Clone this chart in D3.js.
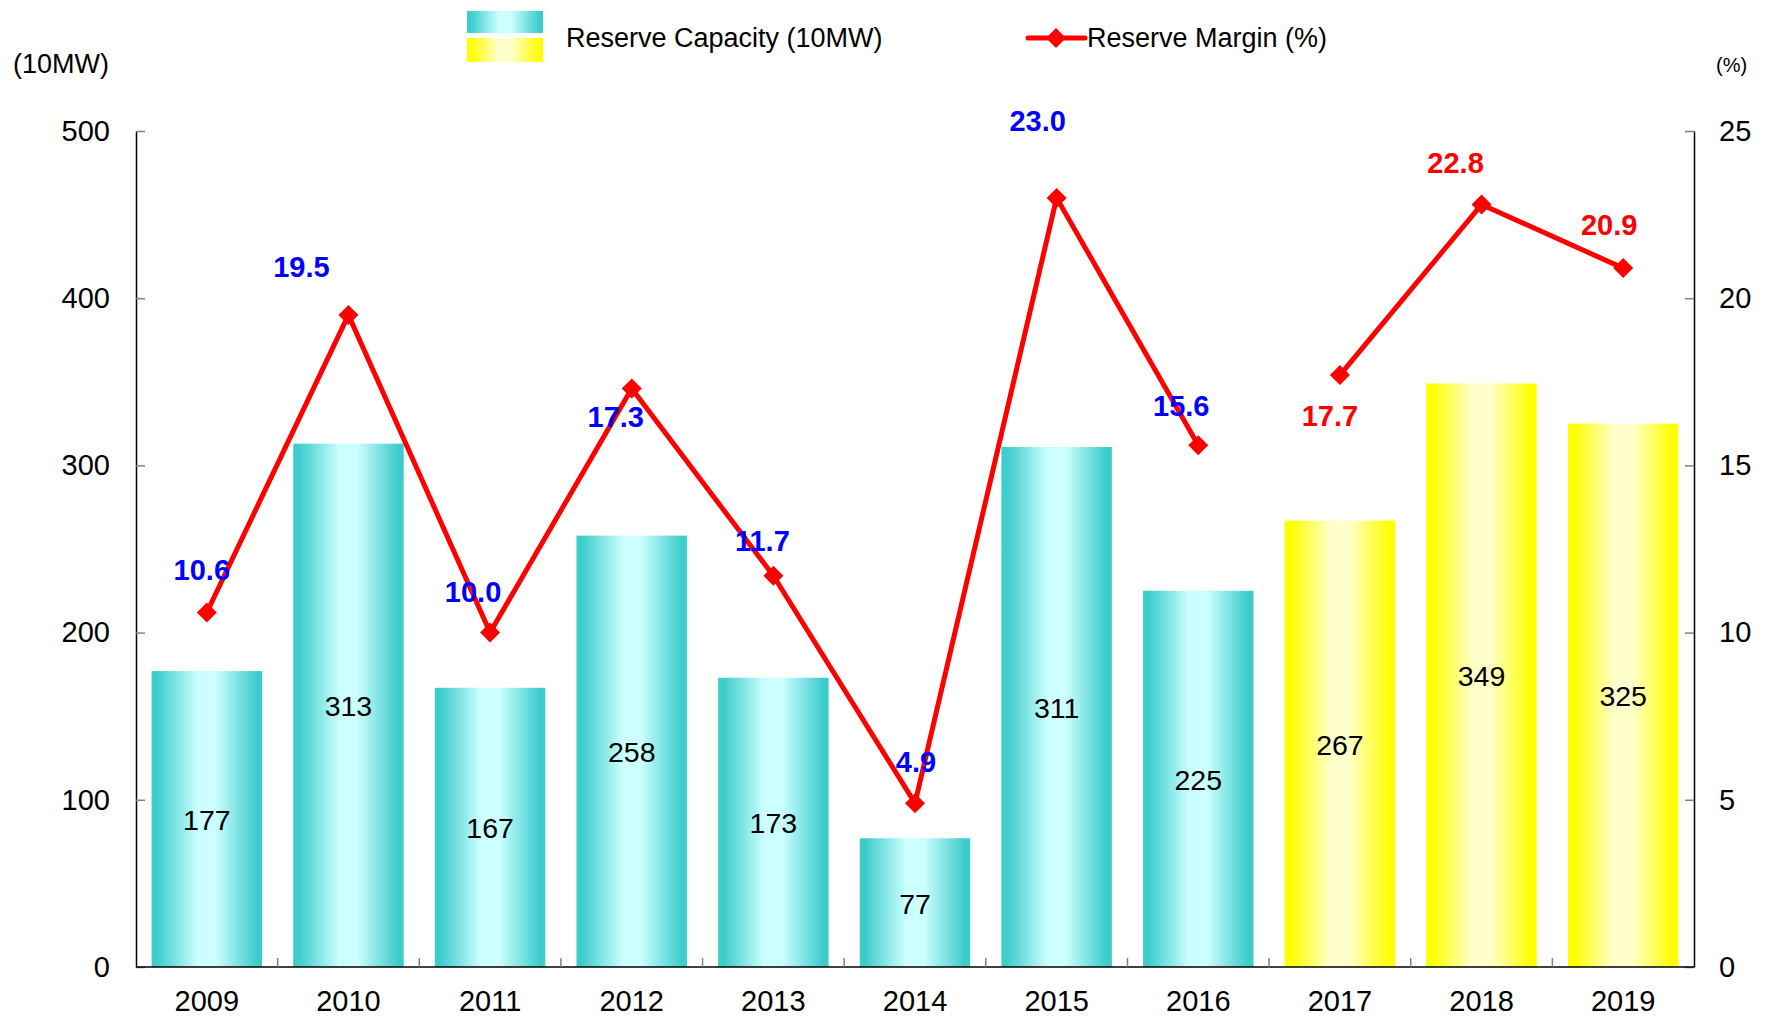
<!DOCTYPE html>
<html>
<head>
<meta charset="utf-8">
<script src="https://cdn.jsdelivr.net/npm/d3@7"></script>
<style>
  html, body { margin: 0; padding: 0; background: #fff; }
  svg { display: block; font-family: "Liberation Sans", Arial, sans-serif; }
</style>
</head>
<body>
<svg id="chart" width="1765" height="1019"></svg>
<script>
// ---- data ----
const years = ["2009","2010","2011","2012","2013","2014","2015","2016","2017","2018","2019"];
const reserveCapacity = [177, 313, 167, 258, 173, 77, 311, 225, 267, 349, 325];
const reserveMargin = [10.6, 19.5, 10.0, 17.3, 11.7, 4.9, 23.0, 15.6, 17.7, 22.8, 20.9];
const forecast = [false, false, false, false, false, false, false, false, true, true, true];
const leftTicks = [0, 100, 200, 300, 400, 500];
const rightTicks = [0, 5, 10, 15, 20, 25];
// label placement (layout only)
const labelOffsets = [[-5,-43],[-47,-48],[-17,-41],[-16,29],[-11,-35],[1,-41],[-19,-77],[-17,-39],[-10,41],[-26,-42],[-14,-43]];

const svg = d3.select("#chart");
const L = 136, R = 1694, T = 131, B = 967;

const x = d3.scaleBand().domain(years).range([L, R]).paddingInner(0.22).paddingOuter(0.11);
const yL = d3.scaleLinear().domain([0, 500]).range([B, T]);
const yR = d3.scaleLinear().domain([0, 25]).range([B, T]);

// gradients
const defs = svg.append("defs");
function grad(id, edge, mid) {
  const g = defs.append("linearGradient").attr("id", id)
    .attr("x1", "0").attr("x2", "1").attr("y1", "0").attr("y2", "0");
  [[0, edge],[0.05, edge],[0.42, mid],[0.58, mid],[0.95, edge],[1, edge]].forEach(s =>
    g.append("stop").attr("offset", s[0]).attr("stop-color", s[1]));
}
grad("gCyan", "#3DCCCC", "#CCFFFF");
grad("gYellow", "#FFFF00", "#FFFFCC");

const data = years.map((y, i) => ({year: y, cap: reserveCapacity[i], mar: reserveMargin[i], fc: forecast[i], off: labelOffsets[i]}));

// bars
svg.append("g").selectAll("rect").data(data).join("rect")
  .attr("x", d => x(d.year))
  .attr("width", x.bandwidth())
  .attr("y", d => yL(d.cap))
  .attr("height", d => B - yL(d.cap))
  .attr("fill", d => d.fc ? "url(#gYellow)" : "url(#gCyan)");

// bar labels
svg.append("g").selectAll("text").data(data).join("text")
  .attr("x", d => x(d.year) + x.bandwidth() / 2)
  .attr("y", d => (yL(d.cap) + B) / 2 + 1)
  .attr("text-anchor", "middle")
  .attr("dominant-baseline", "central")
  .attr("font-size", 28.5)
  .attr("fill", "#000")
  .text(d => d.cap);

// axes
function styleAxis(g) {
  g.select(".domain").attr("stroke", "#000").attr("stroke-width", 1.5);
  g.selectAll(".tick line").attr("stroke", "#808080").attr("stroke-width", 1.5);
  g.selectAll(".tick text").attr("font-size", 29).attr("fill", "#000")
    .attr("font-family", "'Liberation Sans', Arial, sans-serif");
}
const axL = svg.append("g").attr("transform", `translate(${L},0)`)
  .call(d3.axisLeft(yL).tickValues(leftTicks).tickSize(-9).tickSizeOuter(0).tickPadding(26));
styleAxis(axL);
const axR = svg.append("g").attr("transform", `translate(${R},0)`)
  .call(d3.axisRight(yR).tickValues(rightTicks).tickSize(-9).tickSizeOuter(0).tickPadding(25));
styleAxis(axR);
axR.selectAll(".tick text").attr("text-anchor", "start");

// bottom axis: category separators pointing up
const axB = svg.append("g").attr("transform", `translate(0,${B})`)
  .call(d3.axisBottom(x).tickSize(0).tickSizeOuter(0).tickPadding(23));
styleAxis(axB);
axB.selectAll(".tick text").attr("dy", "0.71em");
const seps = years.slice(1).map(y => x(y) - x.step() * x.paddingInner() / 2);
axB.selectAll(".sep").data(seps).join("line").attr("class", "sep")
  .attr("x1", d => d).attr("x2", d => d).attr("y1", 0).attr("y2", -9)
  .attr("stroke", "#808080").attr("stroke-width", 1.5);
axB.select(".domain").attr("d", `M${L},0H${R}`);

// line (broken between actuals and forecast)
const line = d3.line().x(d => x(d.year) + x.bandwidth() / 2).y(d => yR(d.mar));
const segs = [data.filter(d => !d.fc), data.filter(d => d.fc)];
svg.append("g").selectAll("path").data(segs).join("path")
  .attr("d", line).attr("fill", "none").attr("stroke", "#FF0000")
  .attr("stroke-width", 5).attr("stroke-linejoin", "round");

svg.append("g").selectAll("path").data(data).join("path")
  .attr("transform", d => `translate(${x(d.year) + x.bandwidth() / 2},${yR(d.mar)}) rotate(45)`)
  .attr("d", d3.symbol().type(d3.symbolSquare).size(200))
  .attr("fill", "#FF0000");

// margin labels
svg.append("g").selectAll("text").data(data).join("text")
  .attr("x", d => x(d.year) + x.bandwidth() / 2 + d.off[0])
  .attr("y", d => yR(d.mar) + d.off[1])
  .attr("text-anchor", "middle")
  .attr("dominant-baseline", "central")
  .attr("font-size", 29).attr("font-weight", "bold")
  .attr("fill", d => d.fc ? "#FF0000" : "#0000FF")
  .text(d => d.mar.toFixed(1));

// axis unit titles
svg.append("text").attr("x", 13).attr("y", 64).attr("dominant-baseline", "central")
  .attr("font-size", 27).text("(10MW)");
svg.append("text").attr("x", 1716).attr("y", 65).attr("dominant-baseline", "central")
  .attr("font-size", 20).text("(%)");

// legend
const lg = svg.append("g");
lg.append("rect").attr("x", 467).attr("y", 11).attr("width", 76).attr("height", 22).attr("fill", "url(#gCyan)");
lg.append("rect").attr("x", 467).attr("y", 38).attr("width", 76).attr("height", 24).attr("fill", "url(#gYellow)");
lg.append("text").attr("x", 566).attr("y", 38).attr("dominant-baseline", "central")
  .attr("font-size", 27).text("Reserve Capacity (10MW)");
lg.append("line").attr("x1", 1028).attr("x2", 1085).attr("y1", 38).attr("y2", 38)
  .attr("stroke", "#FF0000").attr("stroke-width", 5).attr("stroke-linecap", "round");
lg.append("path").attr("transform", "translate(1056,38) rotate(45)")
  .attr("d", d3.symbol().type(d3.symbolSquare).size(200)).attr("fill", "#FF0000");
lg.append("text").attr("x", 1087).attr("y", 38).attr("dominant-baseline", "central")
  .attr("font-size", 27).text("Reserve Margin (%)");
</script>
</body>
</html>
